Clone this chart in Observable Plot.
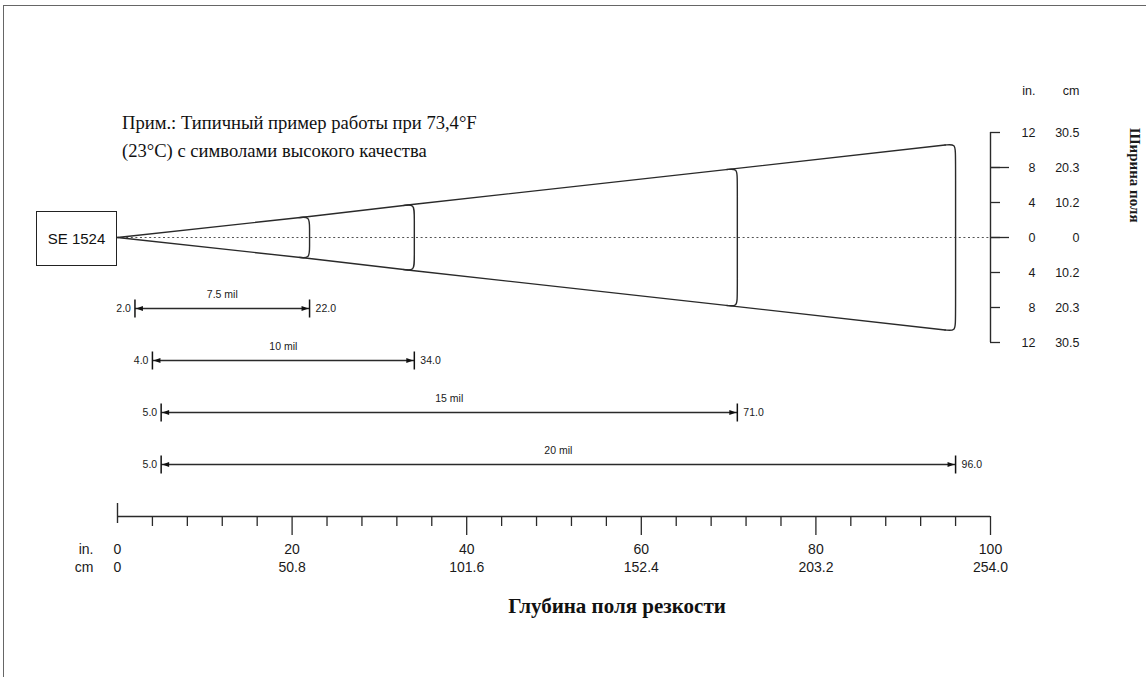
<!DOCTYPE html>
<html>
<head>
<meta charset="utf-8">
<script src="https://cdn.jsdelivr.net/npm/d3@7"></script>
<script src="https://cdn.jsdelivr.net/npm/@observablehq/plot@0.6"></script>
<style>
html, body { margin: 0; padding: 0; background: #fff; }
#root { position: relative; width: 1146px; height: 677px; overflow: hidden; background: #fff; }
#root > svg { position: absolute; left: 0; top: 0; }
.border { position: absolute; left: 3px; top: 5px; width: 1400px; height: 900px; border: 1.5px solid #666; }
.note { position: absolute; left: 122px; top: 109px; font-family: "Liberation Serif", "Times New Roman", serif; font-size: 18.6px; line-height: 28px; color: #111; white-space: nowrap; }
.title { position: absolute; left: 367px; width: 500px; top: 595px; text-align: center; font-family: "Liberation Serif", "Times New Roman", serif; font-weight: bold; font-size: 21px; line-height: 22px; color: #111; }
.box { position: absolute; left: 36px; top: 211px; width: 81px; height: 55px; box-sizing: border-box; border: 1.4px solid #222; display: flex; align-items: center; justify-content: center; font-family: "Liberation Sans", Arial, sans-serif; font-size: 15px; color: #111; }
</style>
</head>
<body>
<div id="root">
  <div class="border"></div>
  <div class="note">Прим.: Типичный пример работы при 73,4°F<br>(23°C) с символами высокого качества</div>
  <div class="title">Глубина поля резкости</div>
  <div class="box">SE 1524</div>
</div>
<script>
// ---- data (inches) ----
const rangeLabels = ["7.5 mil", "10 mil", "15 mil", "20 mil"];
const rangeNear = [2.0, 4.0, 5.0, 5.0];
const rangeFar = [22.0, 34.0, 71.0, 96.0];
const fieldHalfWidth = [2.4, 3.8, 7.9, 10.7];
const widthTicksIn = [12, 8, 4, 0, -4, -8, -12];
const widthTicksCm = ["30.5", "20.3", "10.2", "0", "10.2", "20.3", "30.5"];
const widthLongTicks = [8, 0];
const depthMajorIn = [0, 20, 40, 60, 80, 100];
const depthMajorCm = ["0", "50.8", "101.6", "152.4", "203.2", "254.0"];
const depthMinorIn = [4, 8, 12, 16, 24, 28, 32, 36, 44, 48, 52, 56, 64, 68, 72, 76, 84, 88, 92, 96];

const ranges = rangeLabels.map((label, i) => ({label, near: rangeNear[i], far: rangeFar[i], half: fieldHalfWidth[i]}));

// ---- layout ----
const W = 1146, H = 677;
const X0 = 117, X100 = 990;
const marginLeft = X0, marginRight = W - X100;
const sans = "Liberation Sans, Arial, sans-serif";
const baseStyle = {background: "transparent", fontFamily: sans, fontSize: "12px", color: "#1a1a1a", overflow: "visible"};
const ink = "#2a2a2a";

// cone geometry built from the data
const corner = 1.2;
const outer = ranges[ranges.length - 1];
const coneTop = [{x: 0, y: 0}]
  .concat(ranges.slice(0, -1).map(r => ({x: r.far, y: r.half})))
  .concat([{x: outer.far - corner, y: outer.half * (outer.far - corner) / outer.far}]);
const coneBottom = coneTop.map(p => ({x: p.x, y: -p.y}));
const brackets = ranges.flatMap(r => {
  const xa = r.far - corner, ya = r.half * xa / r.far;
  return [[xa, ya], [r.far, r.half], [r.far, r.half - corner], [r.far, -(r.half - corner)], [r.far, -r.half], [xa, -ya]]
    .map(([x, y]) => ({x, y, label: r.label}));
});

const plotA = Plot.plot({
  width: W, height: H, marginLeft, marginRight, marginTop: 132, marginBottom: H - 342,
  x: {domain: [0, 100], axis: null},
  y: {domain: [-12, 12], axis: null, label: null},
  style: baseStyle,
  marks: [
    Plot.ruleY([0], {stroke: "#555", strokeDasharray: "2,2.6", strokeWidth: 1}),
    Plot.line(coneTop, {x: "x", y: "y", stroke: ink, strokeWidth: 1.4}),
    Plot.line(coneBottom, {x: "x", y: "y", stroke: ink, strokeWidth: 1.4}),
    Plot.line(brackets, {x: "x", y: "y", z: "label", curve: "basis", stroke: ink, strokeWidth: 1.4}),
    Plot.ruleX([100], {stroke: ink, strokeWidth: 1.4}),
    Plot.ruleY(widthTicksIn, {y: d => d, insetLeft: X100 - X0, insetRight: -10, stroke: ink, strokeWidth: 1.3}),
    Plot.ruleY(widthLongTicks, {y: d => d, insetLeft: X100 - X0, insetRight: -19, stroke: ink, strokeWidth: 1.3}),
    Plot.text(widthTicksIn, {y: d => d, text: d => String(Math.abs(d)), frameAnchor: "right", dx: 45, fontSize: 12.5}),
    Plot.text(widthTicksIn, {y: d => d, text: (d, i) => widthTicksCm[i], frameAnchor: "right", dx: 89, fontSize: 12.5}),
    Plot.text(["in."], {frameAnchor: "top-right", dx: 45, dy: -42, lineAnchor: "middle", fontSize: 12.5}),
    Plot.text(["cm"], {frameAnchor: "top-right", dx: 89, dy: -42, lineAnchor: "middle", fontSize: 12.5}),
    Plot.text(["Ширина поля"], {frameAnchor: "right", dx: 139, dy: -15, rotate: 90, lineAnchor: "bottom",
      fontFamily: "Liberation Serif, serif", fontWeight: "bold", fontSize: 15})
  ]
});

const arrowRight = {draw(ctx) { ctx.moveTo(0, 0); ctx.lineTo(-7, -2.6); ctx.lineTo(-7, 2.6); ctx.closePath(); }};
const arrowLeft = {draw(ctx) { ctx.moveTo(0, 0); ctx.lineTo(7, -2.6); ctx.lineTo(7, 2.6); ctx.closePath(); }};
const endTick = {draw(ctx) { ctx.moveTo(0, -9); ctx.lineTo(0, 9); }};

const plotB = Plot.plot({
  width: W, height: H, marginLeft, marginRight, marginTop: 307, marginBottom: H - 464,
  x: {domain: [0, 100], axis: null},
  y: {type: "point", domain: rangeLabels, padding: 0, axis: null},
  style: baseStyle,
  marks: [
    Plot.link(ranges, {x1: "near", x2: "far", y1: "label", y2: "label", stroke: ink, strokeWidth: 1.4}),
    Plot.dot(ranges, {x: "near", y: "label", symbol: endTick, stroke: "#111", strokeWidth: 1.5}),
    Plot.dot(ranges, {x: "far", y: "label", symbol: endTick, stroke: "#111", strokeWidth: 1.5}),
    Plot.dot(ranges, {x: "near", y: "label", symbol: arrowLeft, fill: "#111", dx: 1}),
    Plot.dot(ranges, {x: "far", y: "label", symbol: arrowRight, fill: "#111", dx: -1}),
    Plot.text(ranges, {x: d => (d.near + d.far) / 2, y: "label", text: "label", dy: -14, fontSize: 10.5}),
    Plot.text(ranges, {x: "near", y: "label", text: d => d.near.toFixed(1), textAnchor: "end", dx: -4, fontSize: 10.5}),
    Plot.text(ranges, {x: "far", y: "label", text: d => d.far.toFixed(1), textAnchor: "start", dx: 6, fontSize: 10.5})
  ]
});

const plotC = Plot.plot({
  width: W, height: H, marginLeft, marginRight, marginTop: 480, marginBottom: H - 516,
  x: {domain: [0, 100], axis: null},
  y: {domain: [0, 1], axis: null},
  style: baseStyle,
  marks: [
    Plot.ruleY([0], {stroke: ink, strokeWidth: 1.4}),
    Plot.ruleX([0], {insetTop: 23, insetBottom: -7, stroke: ink, strokeWidth: 1.4}),
    Plot.ruleX(depthMinorIn, {insetTop: 36, insetBottom: -10, stroke: ink, strokeWidth: 1.3}),
    Plot.ruleX(depthMajorIn.slice(1), {insetTop: 36, insetBottom: -19, stroke: ink, strokeWidth: 1.3}),
    Plot.text(depthMajorIn, {x: d => d, text: (d, i) => `${d}\n${depthMajorCm[i]}`, frameAnchor: "bottom", dy: 41, lineAnchor: "middle", lineHeight: 1.3, fontSize: 14}),
    Plot.text(["in.\ncm"], {frameAnchor: "bottom-left", dx: -24, dy: 41, textAnchor: "end", lineAnchor: "middle", lineHeight: 1.3, fontSize: 14})
  ]
});

const root = document.getElementById("root");
root.appendChild(plotA);
root.appendChild(plotB);
root.appendChild(plotC);
</script>
</body>
</html>
